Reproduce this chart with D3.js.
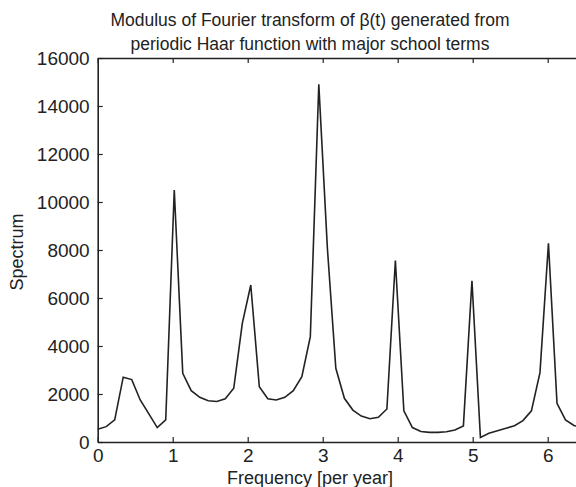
<!DOCTYPE html>
<html>
<head>
<meta charset="utf-8">
<script src="https://cdn.jsdelivr.net/npm/d3@7"></script>
<style>
  html, body { margin: 0; padding: 0; background: #fff; }
  svg { display: block; font-family: "Liberation Sans", Arial, Helvetica, sans-serif; }
</style>
</head>
<body>
<svg id="chart" width="576" height="487"></svg>
<script>
const titleLines = ["Modulus of Fourier transform of \u03B2(t) generated from",
                    "periodic Haar function with major school terms"];
const xLabel = "Frequency [per year]";
const yLabel = "Spectrum";
const xTicks = [0, 1, 2, 3, 4, 5, 6];
const yTicks = [0, 2000, 4000, 6000, 8000, 10000, 12000, 14000, 16000];

const frequency = [0, 0.113, 0.227, 0.340, 0.454, 0.567, 0.680, 0.794, 0.907, 1.021,
  1.134, 1.247, 1.361, 1.474, 1.588, 1.701, 1.814, 1.928, 2.041, 2.155,
  2.268, 2.381, 2.495, 2.608, 2.722, 2.835, 2.948, 3.062, 3.175, 3.289,
  3.402, 3.515, 3.629, 3.742, 3.856, 3.969, 4.082, 4.196, 4.309, 4.423,
  4.536, 4.649, 4.763, 4.876, 4.990, 5.103, 5.216, 5.330, 5.443, 5.557,
  5.670, 5.783, 5.897, 6.010, 6.124, 6.237, 6.350, 6.464];
const spectrum = [530, 640, 920, 2700, 2600, 1750, 1180, 600, 920, 10500,
  2860, 2140, 1860, 1720, 1690, 1800, 2240, 4940, 6540, 2300,
  1800, 1750, 1860, 2140, 2720, 4390, 14900, 8100, 3070, 1820,
  1330, 1080, 970, 1030, 1375, 7560, 1300, 600, 440, 400,
  400, 430, 500, 670, 6720, 190, 360, 470, 570, 680,
  890, 1300, 2890, 8280, 1610, 920, 690, 600];

const data = frequency.map((f, i) => ({ f, v: spectrum[i] }));

const svg = d3.select("#chart");
const mLeft = 97.7, mTop = 58, mBottom = 442;
const x = d3.scaleLinear().domain([0, 6.5]).range([mLeft, mLeft + 6.5 * 75]);
const y = d3.scaleLinear().domain([0, 16000]).range([mBottom, mTop]);
const ink = "#222";

// plot line
svg.append("path")
  .datum(data)
  .attr("fill", "none")
  .attr("stroke", ink)
  .attr("stroke-width", 1.6)
  .attr("stroke-linejoin", "miter")
  .attr("d", d3.line().x(d => x(d.f)).y(d => y(d.v)));

// bottom axis
const xAxis = svg.append("g")
  .attr("transform", `translate(0,${mBottom})`)
  .call(d3.axisBottom(x).tickValues(xTicks).tickSizeInner(-5).tickSizeOuter(0).tickPadding(7).tickFormat(d3.format("d")));
// top axis
const xAxisTop = svg.append("g")
  .attr("transform", `translate(0,${mTop})`)
  .call(d3.axisTop(x).tickValues(xTicks).tickSizeInner(-5).tickSizeOuter(0).tickFormat(""));
// left axis
const yAxis = svg.append("g")
  .attr("transform", `translate(${mLeft},0)`)
  .call(d3.axisLeft(y).tickValues(yTicks).tickSizeInner(-5).tickSizeOuter(0).tickPadding(8).tickFormat(d3.format("d")));

[xAxis, xAxisTop, yAxis].forEach(g => {
  g.select(".domain").attr("stroke", ink).attr("stroke-width", 1.6);
  g.selectAll(".tick line").attr("stroke", ink).attr("stroke-width", 1.2);
  g.selectAll(".tick text").attr("fill", ink).attr("font-size", 19)
    .attr("font-family", "'Liberation Sans', Arial, sans-serif");
});

// title
svg.append("g").selectAll("text")
  .data(titleLines).join("text")
  .attr("x", 310).attr("y", (d, i) => 26 + i * 24)
  .attr("text-anchor", "middle")
  .attr("font-size", 17.5)
  .attr("fill", ink)
  .text(d => d);

// axis labels
svg.append("text")
  .attr("x", 310).attr("y", 484)
  .attr("text-anchor", "middle")
  .attr("font-size", 18)
  .attr("fill", ink)
  .text(xLabel);

svg.append("text")
  .attr("transform", "translate(23,252) rotate(-90)")
  .attr("text-anchor", "middle")
  .attr("font-size", 18)
  .attr("fill", ink)
  .text(yLabel);
</script>
</body>
</html>
